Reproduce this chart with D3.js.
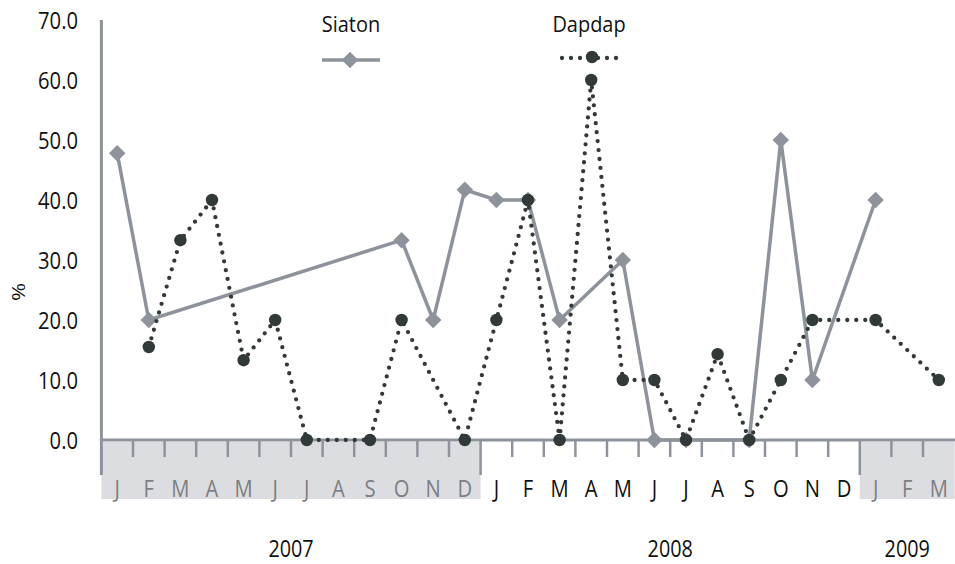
<!DOCTYPE html>
<html>
<head>
<meta charset="utf-8">
<script src="https://cdn.jsdelivr.net/npm/d3@7"></script>
<style>
  body { margin: 0; background: #fff; }
  text { font-family: "Open Sans", sans-serif; }
</style>
</head>
<body>
<div id="chart"></div>
<script>
// month letters, 2007-01 .. 2009-03
const months = ["J","F","M","A","M","J","J","A","S","O","N","D",
                "J","F","M","A","M","J","J","A","S","O","N","D",
                "J","F","M"];
const years = [{label: "2007", from: 0, to: 12, shaded: true},
               {label: "2008", from: 12, to: 24, shaded: false},
               {label: "2009", from: 24, to: 27, shaded: true}];
const yTicks = [0, 10, 20, 30, 40, 50, 60, 70];

// null = no sample that month (line runs across)
const siaton = [47.8, 20, null, null, null, null, null, null, null, 33.3, 20, 41.7,
                40, 40, 20, null, 30, 0, 0, null, 0, 50, 10, null,
                40, null, null];
const dapdap = [null, 15.5, 33.3, 40, 13.3, 20, 0, null, 0, 20, null, 0,
                20, 40, 0, 60, 10, 10, 0, 14.3, 0, 10, 20, null,
                20, null, 10];

const W = 955, H = 564;
const greyLine = "#8e939b", dark = "#323a39", band = "#dcdde0";
const sx = 0.86;

const svg = d3.select("#chart").append("svg")
    .attr("width", W)
    .attr("height", H);

const x = d3.scaleBand().domain(d3.range(months.length)).range([101.4, 954.6]).padding(0);
const y = d3.scaleLinear().domain([0, 70]).range([440, 20]);

// shaded year bands under the axis
svg.selectAll("rect.band")
    .data(years.filter(d => d.shaded))
    .enter().append("rect")
    .attr("x", d => x(d.from))
    .attr("width", d => x.step() * (d.to - d.from))
    .attr("y", 442)
    .attr("height", 57)
    .attr("fill", band);

// y axis labels
const yAxis = svg.append("g")
    .attr("transform", `translate(${x.range()[0]},0)`)
    .call(d3.axisLeft(y).tickValues(yTicks).tickFormat(d3.format(".1f")).tickSize(0));
yAxis.select(".domain").remove();
yAxis.selectAll("text")
    .attr("x", -23.4 / sx)
    .attr("dy", "0.36em")
    .attr("transform", `scale(${sx},1)`)
    .style("font-size", "23.5px")
    .style("fill", "#111");

svg.append("line")
    .attr("x1", x.range()[0]).attr("x2", x.range()[0])
    .attr("y1", y(70)).attr("y2", 475)
    .attr("stroke", greyLine).attr("stroke-width", 3);

// x axis line and ticks between months
svg.append("line")
    .attr("x1", x.range()[0]).attr("x2", W)
    .attr("y1", y(0)).attr("y2", y(0))
    .attr("stroke", greyLine).attr("stroke-width", 3);

const bounds = d3.range(1, months.length);
svg.selectAll("line.tick")
    .data(bounds)
    .enter().append("line")
    .attr("x1", d => x(0) + d * x.step())
    .attr("x2", d => x(0) + d * x.step())
    .attr("y1", 441)
    .attr("y2", d => (d === 12 || d === 24) ? 475 : 457)
    .attr("stroke", greyLine)
    .attr("stroke-width", 2.5);

// month letters
svg.selectAll("text.month")
    .data(months)
    .enter().append("text")
    .attr("transform", (d, i) => `translate(${x(i) + x.bandwidth() / 2},497) scale(${sx},1)`)
    .attr("text-anchor", "middle")
    .style("font-size", "23.5px")
    .style("fill", (d, i) => (i < 12 || i >= 24) ? "#7d7f83" : "#111")
    .text(d => d);

// years
svg.selectAll("text.year")
    .data(years)
    .enter().append("text")
    .attr("transform", d => `translate(${x(d.from) + x.step() * (d.to - d.from) / 2},557) scale(${sx},1)`)
    .attr("text-anchor", "middle")
    .style("font-size", "23px")
    .style("fill", "#111")
    .text(d => d.label);

// % label
svg.append("text")
    .attr("transform", `translate(25,292) rotate(-90) scale(1,${sx})`)
    .attr("text-anchor", "middle")
    .style("font-size", "22px")
    .style("fill", "#111")
    .text("%");

const line = d3.line()
    .x(d => x(d.i) + x.bandwidth() / 2)
    .y(d => y(d.v));

const siatonPts = siaton.map((v, i) => ({i, v})).filter(d => d.v !== null);
const dapdapPts = dapdap.map((v, i) => ({i, v})).filter(d => d.v !== null);

const diamond = d3.symbol().type(d3.symbolSquare).size(135);

// Siaton
svg.append("path")
    .datum(siatonPts)
    .attr("d", line)
    .attr("fill", "none")
    .attr("stroke", greyLine)
    .attr("stroke-width", 3.5);
svg.selectAll("path.dia")
    .data(siatonPts)
    .enter().append("path")
    .attr("d", diamond)
    .attr("transform", d => `translate(${x(d.i) + x.bandwidth() / 2},${y(d.v)}) rotate(45)`)
    .attr("fill", greyLine);

// Dapdap
svg.append("path")
    .datum(dapdapPts)
    .attr("d", line)
    .attr("fill", "none")
    .attr("stroke", dark)
    .attr("stroke-width", 4.3)
    .attr("stroke-linecap", "round")
    .attr("stroke-dasharray", "0 9");
svg.selectAll("circle.dot")
    .data(dapdapPts)
    .enter().append("circle")
    .attr("cx", d => x(d.i) + x.bandwidth() / 2)
    .attr("cy", d => y(d.v))
    .attr("r", 6.2)
    .attr("fill", dark);

// legend
const lg1 = svg.append("g");
lg1.append("text")
    .attr("transform", `translate(351,32) scale(0.95,1)`)
    .attr("text-anchor", "middle")
    .style("font-size", "21px").style("fill", "#111")
    .text("Siaton");
lg1.append("line")
    .attr("x1", 322).attr("x2", 380).attr("y1", 60).attr("y2", 60)
    .attr("stroke", greyLine).attr("stroke-width", 3.5);
lg1.append("path")
    .attr("d", diamond)
    .attr("transform", "translate(350,60) rotate(45)")
    .attr("fill", greyLine);

const lg2 = svg.append("g");
lg2.append("text")
    .attr("transform", `translate(589,32) scale(0.95,1)`)
    .attr("text-anchor", "middle")
    .style("font-size", "21px").style("fill", "#111")
    .text("Dapdap");
lg2.append("line")
    .attr("x1", 562).attr("x2", 618).attr("y1", 58).attr("y2", 58)
    .attr("stroke", dark).attr("stroke-width", 4.3)
    .attr("stroke-linecap", "round").attr("stroke-dasharray", "0 9");
lg2.append("circle")
    .attr("cx", 592).attr("cy", 57).attr("r", 6.2)
    .attr("fill", dark);
</script>
</body>
</html>
